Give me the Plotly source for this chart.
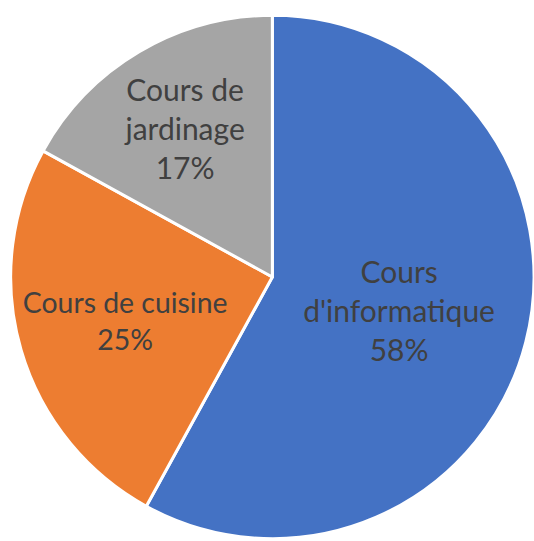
import plotly.graph_objects as go

labels = ["Cours<br>d'informatique", "Cours de cuisine", "Cours de<br>jardinage"]
values = [58, 25, 17]
colors = ["#4472C4", "#ED7D31", "#A5A5A5"]

fig = go.Figure(go.Pie(
    labels=labels,
    values=values,
    sort=False,
    direction="clockwise",
    rotation=0,
    marker=dict(colors=colors, line=dict(color="white", width=3)),
    texttemplate="%{label}<br>%{percent:.0%}",
    textposition="inside",
    insidetextorientation="horizontal",
    textfont=dict(family="Lato", size=30, color="#404040"),
    domain=dict(x=[0.02, 1.0], y=[0.0, 0.976]),
    showlegend=False,
    hoverinfo="label+percent",
))

fig.update_layout(
    width=534, height=541,
    margin=dict(l=0, r=0, t=0, b=0),
    paper_bgcolor="white",
    uniformtext=dict(mode=False),
)

fig.write_html("out.html")
